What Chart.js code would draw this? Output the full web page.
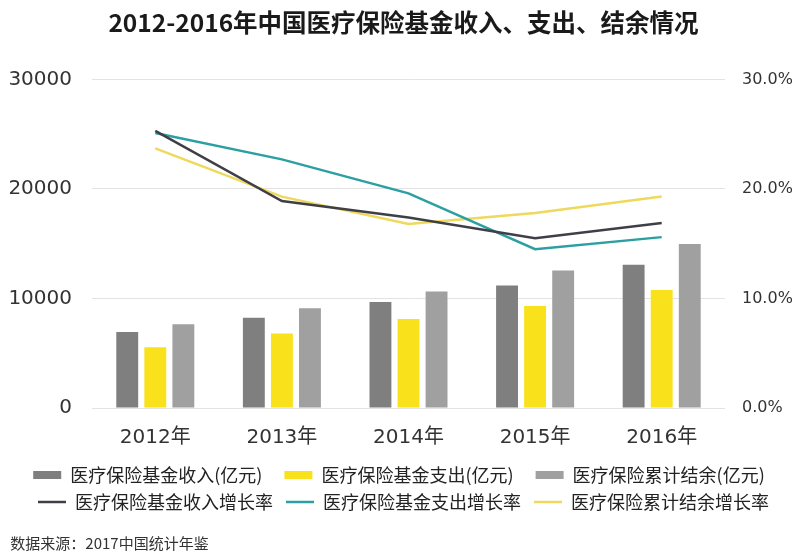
<!DOCTYPE html>
<html lang="zh-CN">
<head>
    <meta charset="UTF-8">
    <title>2012-2016年中国医疗保险基金收入、支出、结余情况</title>
    <style>
        body {
            margin: 0;
            padding: 0;
            background-color: #ffffff;
        }
        canvas {
            display: block;
        }
    </style>
    <script src="https://cdn.jsdelivr.net/npm/chart.js"></script>
</head>
<body>
    <canvas id="fundChart" width="800" height="558"></canvas>

    <script>
        // Data
        const years = ['2012年', '2013年', '2014年', '2015年', '2016年'];
        const income = [6939, 8248, 9687, 11193, 13084];
        const expenditure = [5544, 6801, 8134, 9312, 10767];
        const balance = [7644, 9116, 10645, 12543, 14965];
        const incomeGrowth = [25.3, 18.9, 17.4, 15.5, 16.9];
        const expenditureGrowth = [25.1, 22.7, 19.6, 14.5, 15.6];
        const balanceGrowth = [23.7, 19.3, 16.8, 17.8, 19.3];
        const leftTicks = [0, 10000, 20000, 30000];
        const rightTicks = [0, 10, 20, 30];

        const cjk = '"Noto Sans CJK SC", "Noto Sans", sans-serif';
        const latin = '"DejaVu Sans", "Noto Sans CJK SC", sans-serif';

        // trailing space after each legend entry so the two rows line up
        const legendGap = ['\u2002 ', '\u2002 ', '\u2002', ' ', ' ', ''];

        const ctx = document.getElementById('fundChart').getContext('2d');
        const fundChart = new Chart(ctx, {
            data: {
                labels: years,
                datasets: [
                    {
                        type: 'bar',
                        label: '医疗保险基金收入(亿元)',
                        data: income,
                        backgroundColor: '#7f7f7f',
                        yAxisID: 'y',
                        order: 1
                    },
                    {
                        type: 'bar',
                        label: '医疗保险基金支出(亿元)',
                        data: expenditure,
                        backgroundColor: '#f9e11c',
                        yAxisID: 'y',
                        order: 1
                    },
                    {
                        type: 'bar',
                        label: '医疗保险累计结余(亿元)',
                        data: balance,
                        backgroundColor: '#a0a0a0',
                        yAxisID: 'y',
                        order: 1
                    },
                    {
                        type: 'line',
                        label: '医疗保险基金收入增长率',
                        data: incomeGrowth,
                        borderColor: '#3f3f47',
                        backgroundColor: '#3f3f47',
                        borderWidth: 2.5,
                        pointRadius: 0,
                        yAxisID: 'y1',
                        order: 0
                    },
                    {
                        type: 'line',
                        label: '医疗保险基金支出增长率',
                        data: expenditureGrowth,
                        borderColor: '#2b9fa1',
                        backgroundColor: '#2b9fa1',
                        borderWidth: 2.5,
                        pointRadius: 0,
                        yAxisID: 'y1',
                        order: 0
                    },
                    {
                        type: 'line',
                        label: '医疗保险累计结余增长率',
                        data: balanceGrowth,
                        borderColor: '#eed95c',
                        backgroundColor: '#eed95c',
                        borderWidth: 2.5,
                        pointRadius: 0,
                        yAxisID: 'y1',
                        order: 0
                    }
                ]
            },
            options: {
                responsive: false,
                animation: false,
                layout: {
                    padding: { left: 7, right: 0, top: 0, bottom: 0 }
                },
                datasets: {
                    bar: {
                        categoryPercentage: 0.665,
                        barPercentage: 0.78
                    }
                },
                plugins: {
                    title: {
                        display: true,
                        text: '2012-2016年中国医疗保险基金收入、支出、结余情况',
                        color: '#1a1a1a',
                        font: { family: cjk, size: 24.5, weight: 'bold' },
                        padding: { top: 8, bottom: 42 }
                    },
                    subtitle: {
                        display: true,
                        position: 'bottom',
                        align: 'start',
                        text: ' 数据来源：2017中国统计年鉴',
                        color: '#333333',
                        font: { family: cjk, size: 15 },
                        padding: { top: 13, bottom: 6 }
                    },
                    legend: {
                        position: 'bottom',
                        labels: {
                            color: '#222222',
                            font: { family: cjk, size: 18 },
                            padding: 9,
                            usePointStyle: true,
                            pointStyleWidth: 28,
                            boxHeight: 8,
                            generateLabels: (chart) => chart.data.datasets.map((ds, i) => ({
                                text: ds.label + legendGap[i],
                                fillStyle: ds.backgroundColor,
                                strokeStyle: ds.borderColor || ds.backgroundColor,
                                lineWidth: ds.type === 'line' ? 2.5 : 0,
                                pointStyle: ds.type === 'line' ? 'line' : 'rect',
                                fontColor: '#222222',
                                hidden: false,
                                datasetIndex: i
                            }))
                        }
                    },
                    tooltip: { enabled: false }
                },
                scales: {
                    x: {
                        grid: { display: false, drawTicks: false },
                        border: { display: false },
                        ticks: {
                            color: '#333333',
                            font: { family: latin, size: 20 },
                            padding: 18
                        },
                        afterFit: (scale) => { scale.height = 49; }
                    },
                    y: {
                        position: 'left',
                        min: 0,
                        max: 30000,
                        afterBuildTicks: (scale) => {
                            scale.ticks = leftTicks.map(v => ({ value: v }));
                        },
                        grid: { color: '#e3e3e3', lineWidth: 1, drawTicks: false },
                        border: { display: false },
                        ticks: {
                            color: '#333333',
                            font: { family: latin, size: 20 },
                            padding: 20,
                            callback: (v) => String(v)
                        },
                        afterFit: (scale) => { scale.width = 85; }
                    },
                    y1: {
                        position: 'right',
                        min: 0,
                        max: 30,
                        afterBuildTicks: (scale) => {
                            scale.ticks = rightTicks.map(v => ({ value: v }));
                        },
                        grid: { display: false, drawTicks: false },
                        border: { display: false },
                        ticks: {
                            color: '#333333',
                            font: { family: latin, size: 16 },
                            padding: 17,
                            callback: (v) => v.toFixed(1) + '%'
                        },
                        afterFit: (scale) => { scale.width = 75; }
                    }
                }
            }
        });
    </script>
</body>
</html>
